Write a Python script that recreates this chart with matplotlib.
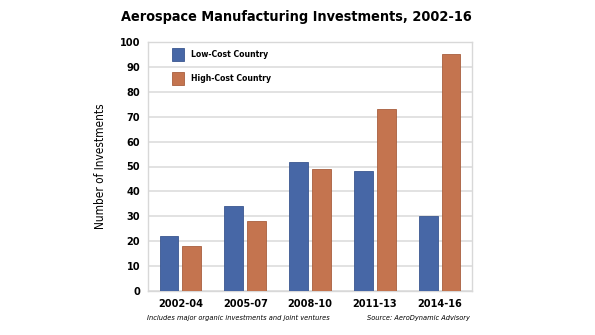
import matplotlib
matplotlib.use("Agg")
import matplotlib.pyplot as plt
import numpy as np
from matplotlib import font_manager
from matplotlib.patches import Rectangle

periods = ["2002-04", "2005-07", "2008-10", "2011-13", "2014-16"]
low_cost = [22, 34, 52, 48, 30]
high_cost = [18, 28, 49, 73, 95]
yticks = [0, 10, 20, 30, 40, 50, 60, 70, 80, 90, 100]

cond = [f for f in font_manager.fontManager.ttflist if "Condensed" in f.fname and "DejaVuSans" in f.fname]
plt.rcParams['font.family'] = ['DejaVu Sans']
plt.rcParams['font.stretch'] = 'condensed' if cond else 'normal'

blue = "#4767A6"
orange = "#C4744F"

W, H = 595, 335
fig = plt.figure(figsize=(W/100, H/100), dpi=100)
ax = fig.add_axes([148/W, 1-291/H, (472-148)/W, (291-42)/H])

x = np.arange(len(periods))
w = 0.29
ax.bar(x - w/2 - 0.03, low_cost, w, color=blue, edgecolor="#3A5790", linewidth=0.6, zorder=3)
ax.bar(x + w/2 + 0.03, high_cost, w, color=orange, edgecolor="#A85F3E", linewidth=0.6, zorder=3)

ax.set_xlim(-0.5, 4.5)
ax.set_ylim(0, 100)
ax.set_yticks(yticks)
ax.set_yticklabels([str(v) for v in yticks], fontweight="bold", fontsize=7.8)
ax.set_xticks(x)
ax.set_xticklabels(periods, fontweight="bold", fontsize=7.8)
ax.tick_params(axis="y", length=0, pad=5.5)
ax.tick_params(axis="x", length=0, pad=6)
ax.yaxis.grid(True, color="#DDDDDD", linewidth=1.2, zorder=0)
for s in ax.spines.values():
    s.set_color("#D8D8D8")
    s.set_linewidth(1.0)
ax.set_ylabel("Number of Investments", fontsize=8.5, labelpad=9)

# legend
for (y0, col, ec, lab) in [(48, blue, "#3A5790", "Low-Cost Country"),
                           (72, orange, "#A85F3E", "High-Cost Country")]:
    fig.patches.append(Rectangle((172/W, 1-(y0+13)/H), 12/W, 13/H, transform=fig.transFigure,
                                 facecolor=col, edgecolor=ec, linewidth=0.6, zorder=5))
    fig.text(191/W, 1-(y0+6.5)/H, lab, ha="left", va="center", fontsize=6.2, fontweight="bold")

fig.text(296/W, 1-17/H, "Aerospace Manufacturing Investments, 2002-16", ha="center", va="center",
         fontsize=10.4, fontweight="bold")
fig.text(147/W, 1-318/H, "Includes major organic investments and joint ventures", ha="left",
         va="center", fontsize=5.3, style="italic")
fig.text(470/W, 1-318/H, "Source: AeroDynamic Advisory", ha="right", va="center",
         fontsize=5.3, style="italic")

fig.savefig("out.png", dpi=100)
